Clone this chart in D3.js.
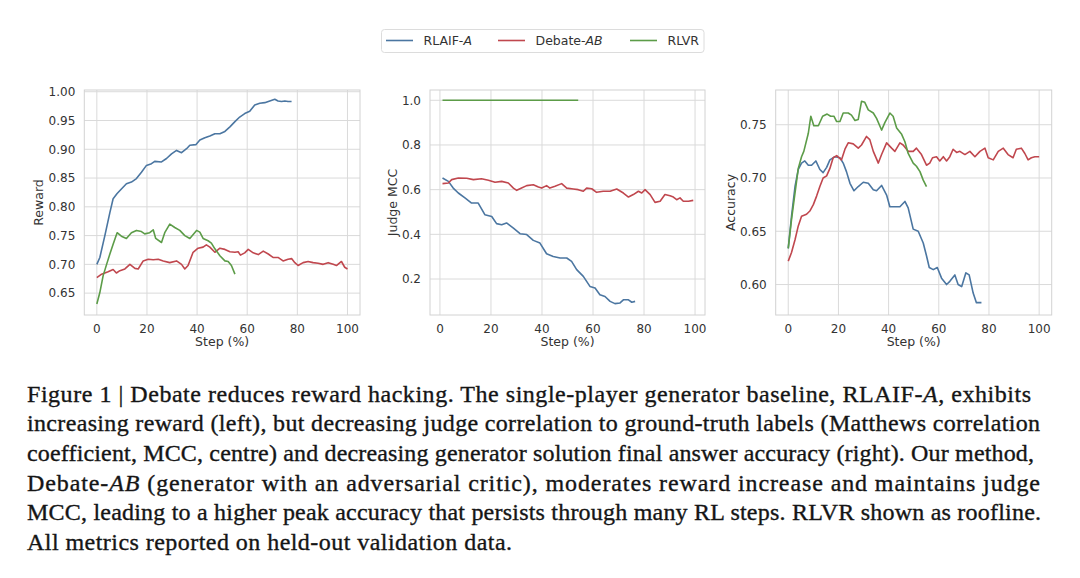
<!DOCTYPE html>
<html lang="en">
<head>
<meta charset="utf-8">
<script src="https://d3js.org/d3.v7.min.js"></script>
<style>
  body { margin: 0; background: #fff; }
  svg text { font-family: "DejaVu Sans", sans-serif; fill: #333; }
  svg text.caption { font-family: "Liberation Serif", serif; fill: #151515; font-size: 24px;
    stroke: #151515; stroke-width: 0.35px; }
</style>
</head>
<body>
<script>
// ---- data: [step %, value] ----
const stepTicks = [0, 20, 40, 60, 80, 100];
const rewardTicks = [0.65, 0.70, 0.75, 0.80, 0.85, 0.90, 0.95, 1.00];
const mccTicks = [0.2, 0.4, 0.6, 0.8, 1.0];
const accTicks = [0.60, 0.65, 0.70, 0.75];

const seriesNames = ["RLAIF-", "Debate-", "RLVR"];
const seriesItalic = ["A", "AB", ""];
const seriesColors = ["#4b76a1", "#c0474e", "#5c9c48"];

const rewardRlaif = [[0,0.700],[1.2,0.712],[3.2,0.750],[5.2,0.790],[6.5,0.814],[8.1,0.823],[9.8,0.831],[11.8,0.840],[13.8,0.843],[15.8,0.849],[17.8,0.860],[19.8,0.872],[21.8,0.875],[23.1,0.879],[25.8,0.878],[27.8,0.884],[29.8,0.892],[31.8,0.898],[33.8,0.894],[35.8,0.901],[37.1,0.907],[39.5,0.908],[41.1,0.916],[43.1,0.920],[45.1,0.923],[47.1,0.927],[49.1,0.927],[51.1,0.931],[53.1,0.939],[55.1,0.948],[57,0.956],[59,0.962],[61,0.966],[63,0.977],[65,0.980],[67,0.981],[69,0.984],[71,0.987],[72.3,0.984],[73.7,0.983],[75,0.984],[76.3,0.983],[77.7,0.983]];
const rewardDebate = [[0,0.677],[1.9,0.683],[4.5,0.687],[6.5,0.691],[7.8,0.685],[9.2,0.689],[11.2,0.692],[13.2,0.700],[15.2,0.693],[16.5,0.692],[18.5,0.706],[20.5,0.709],[22.5,0.708],[24.5,0.709],[26.5,0.706],[29.1,0.703],[31.8,0.706],[33.8,0.700],[35.1,0.692],[36.4,0.698],[38.4,0.721],[40.4,0.728],[42.4,0.730],[43.7,0.734],[45.1,0.730],[47.1,0.721],[49.1,0.728],[51.1,0.726],[53.1,0.722],[55.1,0.721],[56.4,0.722],[57.3,0.716],[59,0.720],[60.4,0.726],[62.4,0.720],[64.4,0.717],[66.4,0.723],[68.4,0.718],[70.3,0.712],[72.3,0.712],[74.3,0.706],[76.3,0.709],[77.7,0.710],[79,0.703],[80.3,0.698],[82.3,0.703],[84.3,0.705],[86.3,0.703],[88.3,0.702],[90.3,0.700],[92.3,0.703],[94.3,0.700],[95.6,0.698],[97.6,0.705],[98.9,0.695],[100,0.692]];
const rewardRlvr = [[0,0.631],[1.2,0.651],[2.5,0.680],[3.9,0.700],[5.2,0.718],[6.5,0.735],[8.1,0.755],[9.8,0.749],[11.8,0.745],[13.8,0.755],[15.8,0.759],[17.8,0.757],[19.1,0.753],[21.1,0.755],[22.5,0.760],[23.5,0.745],[25.8,0.738],[27.1,0.755],[29.1,0.770],[31.1,0.764],[33.1,0.759],[35.1,0.750],[37.1,0.745],[39.8,0.759],[41.1,0.756],[42.4,0.745],[44.4,0.741],[45.7,0.737],[47.1,0.727],[49.1,0.715],[51.1,0.706],[52.4,0.705],[53.7,0.698],[55.1,0.683]];

const mccRlaif = [[1,0.652],[3.3,0.637],[5.2,0.607],[7.2,0.585],[9.8,0.563],[12.4,0.540],[15,0.540],[17.6,0.488],[20.3,0.480],[22.2,0.448],[24.2,0.443],[26.1,0.451],[28.8,0.428],[31.4,0.403],[34,0.399],[36.6,0.373],[39.2,0.361],[41.8,0.313],[44.4,0.301],[47.1,0.294],[49.7,0.294],[51.6,0.279],[53.6,0.242],[56.2,0.212],[58.8,0.167],[60.8,0.160],[62.7,0.130],[64.7,0.122],[66.7,0.100],[68.6,0.090],[70.6,0.093],[71.9,0.107],[73.9,0.107],[75.2,0.096],[76.5,0.100]];
const mccDebate = [[1,0.627],[3.3,0.630],[4.6,0.645],[7.2,0.652],[10.5,0.651],[13.1,0.645],[16.3,0.649],[19,0.642],[21.6,0.633],[24.2,0.637],[26.8,0.630],[28.8,0.607],[30.1,0.597],[32,0.607],[34,0.618],[36.6,0.622],[38.6,0.612],[39.9,0.607],[41.8,0.618],[43.1,0.607],[45.1,0.615],[47.7,0.627],[49.7,0.607],[52.3,0.603],[54.2,0.600],[56.2,0.593],[57.5,0.607],[59.5,0.604],[61.4,0.588],[64,0.593],[66.7,0.593],[69.3,0.603],[71.9,0.585],[73.9,0.567],[75.8,0.578],[77.8,0.593],[79.1,0.585],[80.4,0.600],[82.4,0.578],[84.3,0.543],[86.3,0.548],[88.2,0.578],[90.2,0.573],[91.5,0.567],[92.8,0.555],[94.1,0.563],[95.4,0.548],[97.4,0.548],[99.3,0.552]];
const mccRlvr = [[1,1.0],[10,1.0],[20,1.0],[30,1.0],[40,1.0],[54.2,1.0]];

const accRlaif = [[0,0.634],[1.3,0.664],[2.7,0.692],[4,0.708],[5.3,0.714],[6.6,0.716],[8,0.712],[9.3,0.712],[11,0.716],[12.6,0.708],[13.9,0.705],[15.3,0.710],[16.6,0.717],[18.6,0.720],[20.6,0.719],[21.9,0.714],[23.2,0.706],[24.6,0.695],[26.2,0.688],[27.9,0.692],[29.9,0.696],[31.9,0.695],[33.9,0.689],[35.2,0.688],[37.2,0.693],[39.2,0.684],[40.5,0.673],[42.5,0.673],[44.5,0.673],[46.5,0.678],[47.8,0.672],[49.8,0.652],[51.8,0.650],[53.8,0.639],[55.1,0.627],[56.2,0.616],[57.8,0.614],[59.4,0.616],[61.1,0.606],[63.1,0.600],[64.4,0.603],[66.4,0.609],[67.7,0.600],[69.1,0.598],[70.8,0.611],[72.1,0.609],[73.7,0.592],[75,0.583],[77,0.583]];
const accDebate = [[0,0.622],[1.3,0.630],[2.7,0.642],[4,0.655],[5.3,0.664],[7.3,0.666],[8.6,0.669],[10,0.675],[11.3,0.683],[12.6,0.692],[13.9,0.700],[15.3,0.702],[16.6,0.709],[17.9,0.719],[19.3,0.721],[21.2,0.717],[22.6,0.727],[23.9,0.733],[25.9,0.732],[27.9,0.728],[29.2,0.731],[31.2,0.739],[32.5,0.736],[33.9,0.725],[35.9,0.714],[37.2,0.722],[39.2,0.733],[41.2,0.728],[42.5,0.725],[44.5,0.733],[45.8,0.731],[47.8,0.725],[49.8,0.725],[51.1,0.728],[53.1,0.722],[55.1,0.712],[56.4,0.714],[57.5,0.719],[59.1,0.720],[60.4,0.716],[61.8,0.720],[63.1,0.716],[64.4,0.720],[65.7,0.727],[67.1,0.724],[68.4,0.725],[70.4,0.722],[72.4,0.725],[74.4,0.720],[76.4,0.725],[78.4,0.728],[79.7,0.719],[81.7,0.717],[83.7,0.725],[85.7,0.728],[87.6,0.722],[89.6,0.719],[90.9,0.727],[92.9,0.728],[94.3,0.723],[95.6,0.717],[96.9,0.719],[98.3,0.720],[100,0.720]];
const accRlvr = [[0,0.634],[1.3,0.661],[2.7,0.686],[4,0.709],[5.3,0.720],[6.2,0.725],[8,0.742],[9,0.758],[10.2,0.749],[12,0.749],[13.7,0.758],[15.5,0.760],[16.9,0.758],[18.2,0.758],[19.3,0.753],[20.6,0.753],[21.9,0.761],[23.9,0.761],[25.2,0.759],[26.6,0.754],[27.9,0.755],[29.2,0.772],[30.5,0.771],[31.9,0.764],[33.9,0.761],[35.2,0.756],[37.2,0.745],[38.5,0.752],[40.5,0.761],[41.8,0.758],[43.2,0.747],[45.2,0.741],[46.5,0.734],[47.8,0.723],[49.8,0.714],[51.1,0.711],[52.5,0.706],[53.8,0.698],[55.1,0.692]];

const captionLines = [
  ["Figure 1 | Debate reduces reward hacking. The single-player generator baseline, RLAIF-", "A", ", exhibits"],
  ["increasing reward (left), but decreasing judge correlation to ground-truth labels (Matthews correlation"],
  ["coefficient, MCC, centre) and decreasing generator solution final answer accuracy (right). Our method,"],
  ["Debate-", "AB", " (generator with an adversarial critic), moderates reward increase and maintains judge"],
  ["MCC, leading to a higher peak accuracy that persists through many RL steps. RLVR shown as roofline."],
  ["All metrics reported on held-out validation data."]
];
const captionWidths = [1004, 1013, 1007, 1013, 1014, 485];

// ---- layout ----
const W = 1080, H = 578;
const plotTop = 90, plotBottom = 315;

const panels = [
  { left: 84.3, right: 360, xDomain: [-5, 105], yDomain: [0.612, 1.003], yTicks: rewardTicks, fmt: ".2f",
    label: "Reward", labelX: 38, series: [rewardRlaif, rewardDebate, rewardRlvr] },
  { left: 430, right: 705, xDomain: [-3.9, 103.9], yDomain: [0.039, 1.046], yTicks: mccTicks, fmt: ".1f",
    label: "Judge MCC", labelX: 392, series: [mccRlaif, mccDebate, mccRlvr] },
  { left: 775.7, right: 1051.7, xDomain: [-5, 105], yDomain: [0.5714, 0.7826], yTicks: accTicks, fmt: ".2f",
    label: "Accuracy", labelX: 730.5, series: [accRlaif, accDebate, accRlvr] }
];

const svg = d3.select("body").append("svg")
  .attr("width", W).attr("height", H);

svg.append("rect").attr("width", W).attr("height", H).attr("fill", "#fff");

panels.forEach(p => {
  const x = d3.scaleLinear().domain(p.xDomain).range([p.left, p.right]);
  const y = d3.scaleLinear().domain(p.yDomain).range([plotBottom, plotTop]);
  const g = svg.append("g");

  // grid
  g.selectAll(".vg").data(stepTicks).enter().append("line")
    .attr("x1", d => x(d)).attr("x2", d => x(d))
    .attr("y1", plotTop).attr("y2", plotBottom)
    .attr("stroke", "#dadada").attr("stroke-width", 1);
  g.selectAll(".hg").data(p.yTicks).enter().append("line")
    .attr("x1", p.left).attr("x2", p.right)
    .attr("y1", d => y(d)).attr("y2", d => y(d))
    .attr("stroke", "#dadada").attr("stroke-width", 1);

  // frame
  g.append("rect")
    .attr("x", p.left).attr("y", plotTop)
    .attr("width", p.right - p.left).attr("height", plotBottom - plotTop)
    .attr("fill", "none").attr("stroke", "#d2d2d2").attr("stroke-width", 1);

  // tick labels
  g.selectAll(".xt").data(stepTicks).enter().append("text")
    .attr("x", d => x(d)).attr("y", plotBottom + 18)
    .attr("text-anchor", "middle").attr("font-size", 12)
    .text(d => d);
  g.selectAll(".yt").data(p.yTicks).enter().append("text")
    .attr("x", p.left - 9).attr("y", d => y(d)).attr("dy", "0.36em")
    .attr("text-anchor", "end").attr("font-size", 12)
    .text(d => d3.format(p.fmt)(d));

  // axis labels
  g.append("text")
    .attr("x", (p.left + p.right) / 2).attr("y", 346)
    .attr("text-anchor", "middle").attr("font-size", 12.5)
    .text("Step (%)");
  g.append("text")
    .attr("transform", "translate(" + p.labelX + "," + (plotTop + plotBottom) / 2 + ") rotate(-90)")
    .attr("dy", "0.36em")
    .attr("text-anchor", "middle").attr("font-size", 12.5)
    .text(p.label);

  // lines
  const line = d3.line().x(d => x(d[0])).y(d => y(d[1]));
  p.series.forEach((s, i) => {
    g.append("path")
      .datum(s)
      .attr("fill", "none")
      .attr("stroke", seriesColors[i])
      .attr("stroke-width", 1.6)
      .attr("stroke-linejoin", "round")
      .attr("d", line);
  });
});

// legend
const legend = svg.append("g");
legend.append("rect")
  .attr("x", 381.5).attr("y", 29.5).attr("width", 322.5).attr("height", 23)
  .attr("rx", 3).attr("fill", "#fff").attr("stroke", "#dcdcdc");
const legX = [386, 498, 630];
seriesNames.forEach((n, i) => {
  legend.append("line")
    .attr("x1", legX[i]).attr("x2", legX[i] + 27)
    .attr("y1", 40.5).attr("y2", 40.5)
    .attr("stroke", seriesColors[i]).attr("stroke-width", 1.6);
  const t = legend.append("text")
    .attr("x", legX[i] + 37.5).attr("y", 45)
    .attr("font-size", 12.5);
  t.append("tspan").text(n);
  if (seriesItalic[i]) t.append("tspan").attr("font-style", "italic").text(seriesItalic[i]);
});

// caption
captionLines.forEach((parts, i) => {
  const t = svg.append("text")
    .attr("class", "caption")
    .attr("x", 27)
    .attr("y", 401.5 + i * 29.7)
    .attr("textLength", captionWidths[i])
    .attr("lengthAdjust", "spacing");
  parts.forEach((s, j) => {
    t.append("tspan")
      .attr("font-style", j === 1 ? "italic" : null)
      .text(s);
  });
});
</script>
</body>
</html>
